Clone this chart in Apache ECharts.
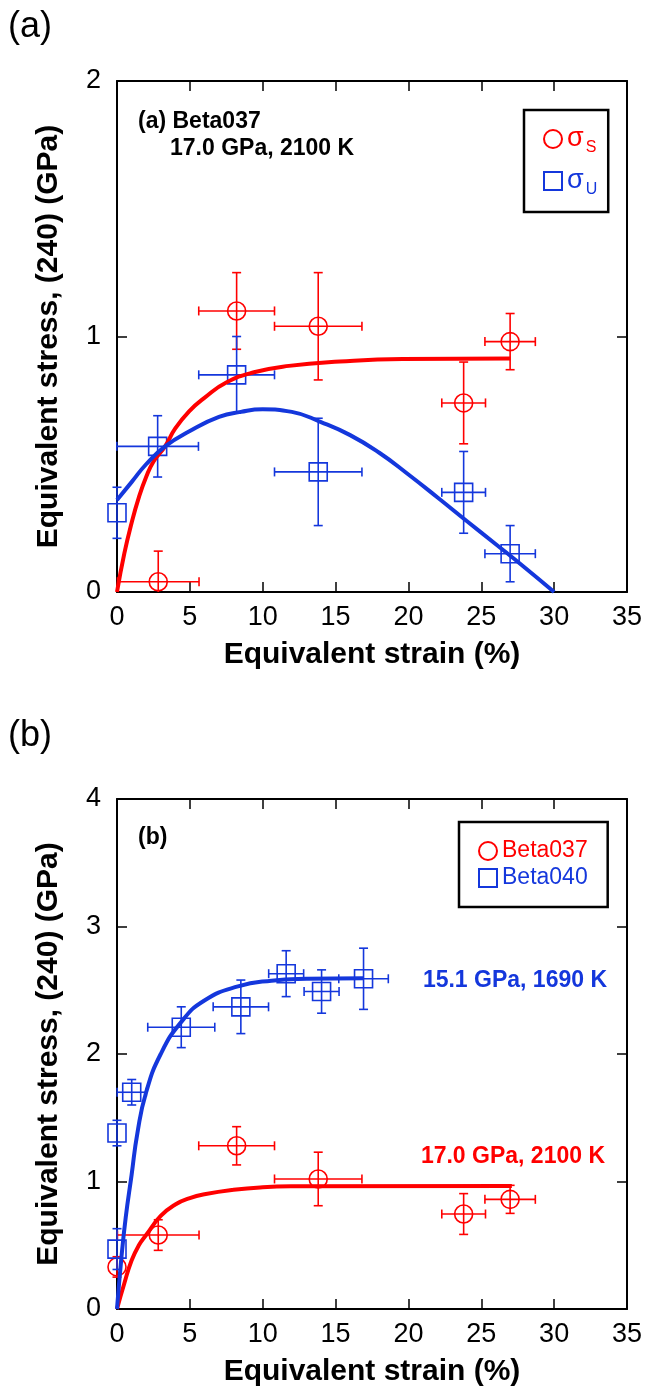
<!DOCTYPE html>
<html>
<head>
<meta charset="utf-8">
<script src="https://cdn.jsdelivr.net/npm/echarts@6/dist/echarts.min.js"></script>
<style>
html,body{margin:0;padding:0;background:#fff;}
#chart{width:645px;height:1388px;}
</style>
</head>
<body>
<div id="chart"></div>
<script>
// ---------- DATA ----------
// Panel (a): Beta037, 17.0 GPa, 2100 K
const aStrainS   = [2.83, 8.21, 13.81, 23.79, 26.98];
const aStressS   = [0.04, 1.10, 1.04, 0.74, 0.98];
const aStrainErrS = [2.8, 2.6, 3.0, 1.5, 1.73];
const aStressErrS = [0.12, 0.15, 0.21, 0.16, 0.11];

const aStrainU   = [0, 2.79, 8.21, 13.81, 23.79, 26.98];
const aStressU   = [0.31, 0.57, 0.85, 0.47, 0.39, 0.15];
const aStrainErrU = [0, 2.8, 2.6, 3.0, 1.5, 1.73];
const aStressErrU = [0.10, 0.12, 0.15, 0.21, 0.16, 0.11];

const aFitSx = [0, 0.5, 1.0, 1.5, 2.0, 2.5, 3.3, 4.0, 5.0, 6.0, 7.5, 9.4, 11.8, 15.3, 19.6, 27.0];
const aFitSy = [0, 0.15, 0.27, 0.37, 0.45, 0.51, 0.57, 0.64, 0.71, 0.76, 0.82, 0.86, 0.885, 0.902, 0.912, 0.914];
const aFitUx = [0, 1, 2, 3.3, 5, 7, 8.5, 10, 12, 14, 16, 18, 20, 22, 24, 26, 28, 30];
const aFitUy = [0.36, 0.43, 0.50, 0.57, 0.63, 0.685, 0.705, 0.715, 0.705, 0.665, 0.614, 0.545, 0.46, 0.37, 0.278, 0.187, 0.095, 0];

// Panel (b): Beta037 vs Beta040
const bStrain37   = [0, 2.83, 8.21, 13.81, 23.79, 26.98];
const bStress37   = [0.33, 0.58, 1.28, 1.02, 0.745, 0.86];
const bStrainErr37 = [0, 2.8, 2.6, 3.0, 1.5, 1.73];
const bStressErr37 = [0.08, 0.12, 0.15, 0.21, 0.16, 0.11];

const bStrain40   = [0, 0, 1.01, 4.41, 8.5, 11.61, 14.04, 16.92];
const bStress40   = [0.47, 1.38, 1.70, 2.21, 2.37, 2.63, 2.49, 2.59];
const bStrainErr40 = [0, 0, 1.0, 2.3, 1.9, 1.2, 1.2, 1.7];
const bStressErr40 = [0.16, 0.10, 0.10, 0.16, 0.21, 0.18, 0.17, 0.24];

const bFit37x = [0, 0.5, 1.0, 1.5, 2.0, 3.0, 4.0, 5.0, 6.0, 8.0, 10.0, 12.0, 27.1];
const bFit37y = [0, 0.2, 0.38, 0.5, 0.58, 0.73, 0.82, 0.87, 0.9, 0.935, 0.955, 0.962, 0.965];
const bFit40x = [0, 0.3, 0.6, 1.0, 1.4, 2.0, 3.0, 4.4, 6.0, 8.3, 10.6, 13.0, 16.9];
const bFit40y = [0, 0.4, 0.72, 1.05, 1.38, 1.7, 2.0, 2.25, 2.42, 2.53, 2.575, 2.59, 2.595];

const xTicks = {min: 0, max: 35, interval: 5};
const yTicksA = {min: 0, max: 2, interval: 1};
const yTicksB = {min: 0, max: 4, interval: 1};

const xTitle = 'Equivalent strain (%)';
const yTitle = 'Equivalent stress, (240) (GPa)';

// ---------- STYLE ----------
const RED = '#ff0000';
const BLUE = '#1437dc';
const FONT = '"Liberation Sans", Arial, Helvetica, sans-serif';

const zip = (...arrs) => arrs[0].map((_, i) => arrs.map(a => a[i]));

function errRender(color) {
  return function (params, api) {
    const x = api.value(0), y = api.value(1), ex = api.value(2), ey = api.value(3);
    const cs = params.coordSys;
    const bottom = cs.y + cs.height;
    const cap = 4.5;
    const st = {stroke: color, lineWidth: 1.6};
    const ch = [];
    const line = (x1, y1, x2, y2) => ch.push({type: 'line', shape: {x1, y1, x2, y2}, style: st});
    if (ex > 0) {
      const l = api.coord([x - ex, y]), r = api.coord([x + ex, y]);
      line(l[0], l[1], r[0], r[1]);
      line(l[0], l[1] - cap, l[0], l[1] + cap);
      line(r[0], r[1] - cap, r[0], r[1] + cap);
    }
    if (ey > 0) {
      const t = api.coord([x, y + ey]), b = api.coord([x, y - ey]);
      const by = Math.min(b[1], bottom);
      line(t[0], t[1], b[0], by);
      line(t[0] - cap, t[1], t[0] + cap, t[1]);
      if (b[1] <= bottom) line(b[0] - cap, b[1], b[0] + cap, b[1]);
    }
    return {type: 'group', children: ch};
  };
}

function xAxes(g) {
  const base = {
    gridIndex: g, type: 'value', min: xTicks.min, max: xTicks.max, interval: xTicks.interval,
    axisLine: {show: true, onZero: false, lineStyle: {color: '#000', width: 2}},
    axisTick: {show: true, inside: true, length: 10, lineStyle: {color: '#000', width: 1.5}},
    splitLine: {show: false}
  };
  return [
    Object.assign({}, base, {
      position: 'bottom',
      axisLabel: {show: true, color: '#000', fontSize: 27, fontFamily: FONT, margin: 12},
      name: xTitle, nameLocation: 'middle', nameGap: 48,
      nameTextStyle: {color: '#000', fontSize: 30, fontWeight: 'bold', fontFamily: FONT}
    }),
    Object.assign({}, base, {position: 'top', axisLabel: {show: false}})
  ];
}
function yAxes(g, t) {
  const base = {
    gridIndex: g, type: 'value', min: t.min, max: t.max, interval: t.interval,
    axisLine: {show: true, onZero: false, lineStyle: {color: '#000', width: 2}},
    axisTick: {show: true, inside: true, length: 10, lineStyle: {color: '#000', width: 1.5}},
    splitLine: {show: false}
  };
  return [
    Object.assign({}, base, {
      position: 'left',
      axisLabel: {show: true, color: '#000', fontSize: 27, fontFamily: FONT, margin: 16},
      name: yTitle, nameLocation: 'middle', nameGap: 53,
      nameTextStyle: {color: '#000', fontSize: 30, fontWeight: 'bold', fontFamily: FONT}
    }),
    Object.assign({}, base, {position: 'right', axisLabel: {show: false}})
  ];
}

function scatter(name, xi, yi, xs, ys, color, symbol) {
  return {
    name, type: 'scatter', xAxisIndex: xi, yAxisIndex: yi, symbol, symbolSize: 18,
    data: zip(xs, ys), z: 3, silent: true,
    itemStyle: {color: 'rgba(255,255,255,0)', borderColor: color, borderWidth: 1.6, opacity: 1},
    emphasis: {disabled: true}
  };
}
function errs(name, xi, yi, xs, ys, exs, eys, color) {
  return {
    name, type: 'custom', xAxisIndex: xi, yAxisIndex: yi, renderItem: errRender(color),
    data: zip(xs, ys, exs, eys), encode: {x: 0, y: 1}, z: 2, silent: true
  };
}
function fit(name, xi, yi, xs, ys, color) {
  return {
    name, type: 'line', xAxisIndex: xi, yAxisIndex: yi, data: zip(xs, ys),
    showSymbol: false, smooth: 0.5, z: 4, silent: true,
    lineStyle: {color, width: 4, cap: 'butt', join: 'round'}, itemStyle: {color}
  };
}

const subRich = (color) => ({
  m: {fontSize: 27, lineHeight: 28, color, fontFamily: FONT},
  s: {fontSize: 16, lineHeight: 16, color, fontFamily: FONT, padding: [18, 0, 0, 2]}
});

const option = {
  animation: false,
  backgroundColor: '#fff',
  grid: [
    {left: 117, top: 81, width: 511, height: 511},
    {left: 117, top: 799, width: 511, height: 510}
  ],
  xAxis: [...xAxes(0), ...xAxes(1)],
  yAxis: [...yAxes(0, yTicksA), ...yAxes(1, yTicksB)],
  legend: [
    {
      orient: 'vertical', left: 524, top: 110, padding: [12, 11, 14, 19],
      itemGap: 8, itemWidth: 18, itemHeight: 18, itemTextGap: 10,
      borderColor: '#000', borderWidth: 2.5, selectedMode: false,
      formatter: n => '{m|σ}{s|' + n.slice(1) + '}',
      data: [
        {name: 'σS', icon: 'circle', itemStyle: {color: 'rgba(255,255,255,0)', borderColor: RED, borderWidth: 2},
          textStyle: {color: RED, rich: subRich(RED)}},
        {name: 'σU', icon: 'rect', itemStyle: {color: 'rgba(255,255,255,0)', borderColor: BLUE, borderWidth: 2},
          textStyle: {color: BLUE, rich: subRich(BLUE)}}
      ]
    },
    {
      orient: 'vertical', left: 459, top: 822, padding: [16, 20, 16, 19],
      itemGap: 1, itemWidth: 18, itemHeight: 18, itemTextGap: 10,
      borderColor: '#000', borderWidth: 2.5, selectedMode: false,
      textStyle: {fontSize: 23, lineHeight: 26, fontFamily: FONT},
      data: [
        {name: 'Beta037', icon: 'circle', itemStyle: {color: 'rgba(255,255,255,0)', borderColor: RED, borderWidth: 2},
          textStyle: {color: RED}},
        {name: 'Beta040', icon: 'rect', itemStyle: {color: 'rgba(255,255,255,0)', borderColor: BLUE, borderWidth: 2},
          textStyle: {color: BLUE}}
      ]
    }
  ],
  graphic: [
    {type: 'text', left: 8, top: 9, style: {text: '(a)', fontSize: 36, fontFamily: FONT, fill: '#000'}},
    {type: 'text', left: 8, top: 718, style: {text: '(b)', fontSize: 36, fontFamily: FONT, fill: '#000'}},
    {type: 'text', left: 138, top: 110, style: {text: '(a) Beta037', fontSize: 23, fontWeight: 'bold', fontFamily: FONT, fill: '#000'}},
    {type: 'text', left: 170, top: 137, style: {text: '17.0 GPa, 2100 K', fontSize: 23, fontWeight: 'bold', fontFamily: FONT, fill: '#000'}},
    {type: 'text', left: 138, top: 826, style: {text: '(b)', fontSize: 23, fontWeight: 'bold', fontFamily: FONT, fill: '#000'}},
    {type: 'text', right: 38, top: 969, style: {text: '15.1 GPa, 1690 K', fontSize: 23, fontWeight: 'bold', fontFamily: FONT, fill: BLUE}},
    {type: 'text', right: 40, top: 1145, style: {text: '17.0 GPa, 2100 K', fontSize: 23, fontWeight: 'bold', fontFamily: FONT, fill: RED}}
  ],
  series: [
    errs('errS', 0, 0, aStrainS, aStressS, aStrainErrS, aStressErrS, RED),
    errs('errU', 0, 0, aStrainU, aStressU, aStrainErrU, aStressErrU, BLUE),
    scatter('σS', 0, 0, aStrainS, aStressS, RED, 'circle'),
    scatter('σU', 0, 0, aStrainU, aStressU, BLUE, 'rect'),
    fit('fitS', 0, 0, aFitSx, aFitSy, RED),
    fit('fitU', 0, 0, aFitUx, aFitUy, BLUE),

    errs('err37', 2, 2, bStrain37, bStress37, bStrainErr37, bStressErr37, RED),
    errs('err40', 2, 2, bStrain40, bStress40, bStrainErr40, bStressErr40, BLUE),
    scatter('Beta037', 2, 2, bStrain37, bStress37, RED, 'circle'),
    scatter('Beta040', 2, 2, bStrain40, bStress40, BLUE, 'rect'),
    fit('fit37', 2, 2, bFit37x, bFit37y, RED),
    fit('fit40', 2, 2, bFit40x, bFit40y, BLUE)
  ]
};

const chart = echarts.init(document.getElementById('chart'), null, {renderer: 'canvas'});
chart.setOption(option);
</script>
</body>
</html>
